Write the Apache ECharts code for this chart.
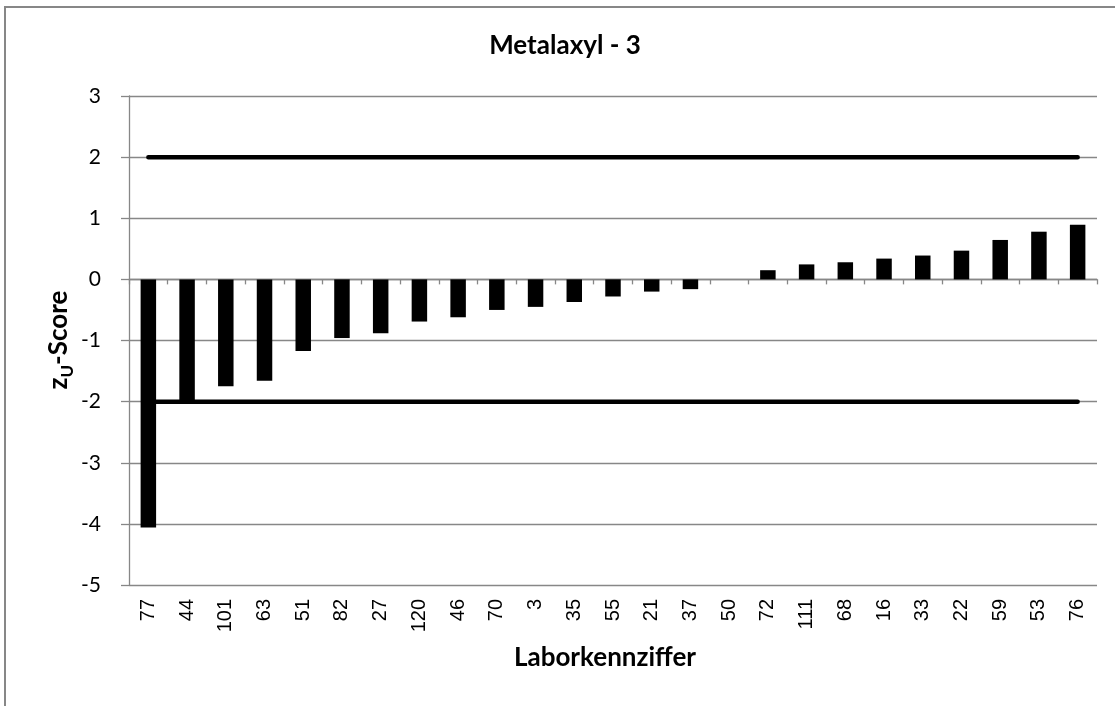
<!DOCTYPE html>
<html>
<head>
<meta charset="utf-8">
<script src="https://cdn.jsdelivr.net/npm/echarts@6/dist/echarts.min.js"></script>
<style>
html,body{margin:0;padding:0;background:#fff;}
#chart{width:1115px;height:706px;}
</style>
</head>
<body>
<div id="chart"></div>
<script>
const categories = ['77','44','101','63','51','82','27','120','46','70','3','35','55','21','37','50','72','111','68','16','33','22','59','53','76'];
const zScores = [-4.06,-1.98,-1.75,-1.66,-1.17,-0.96,-0.88,-0.69,-0.62,-0.50,-0.45,-0.37,-0.28,-0.20,-0.16,0,0.15,0.245,0.28,0.34,0.39,0.47,0.645,0.78,0.895];
const upperLimit = [2,2,2,2,2,2,2,2,2,2,2,2,2,2,2,2,2,2,2,2,2,2,2,2,2];
const lowerLimit = [-2,-2,-2,-2,-2,-2,-2,-2,-2,-2,-2,-2,-2,-2,-2,-2,-2,-2,-2,-2,-2,-2,-2,-2,-2];
const yTicks = {min: -5, max: 3, interval: 1};
const titleText = 'Metalaxyl - 3';
const xTitle = 'Laborkennziffer';

const chart = echarts.init(document.getElementById('chart'), null, {renderer: 'canvas'});
const gridColor = '#878787';
const option = {
  animation: false,
  backgroundColor: '#fff',
  grid: {left: 129, right: 18, top: 96, bottom: 121, containLabel: false},
  xAxis: [
    {
      type: 'category', data: categories, boundaryGap: true,
      axisLine: {onZero: true, lineStyle: {color: gridColor, width: 1.3}},
      axisTick: {show: true, length: 5, lineStyle: {color: gridColor, width: 1.3}},
      axisLabel: {show: false},
      splitLine: {show: false}
    },
    {
      type: 'category', data: categories, position: 'bottom', boundaryGap: true,
      axisLine: {show: false, onZero: false},
      axisTick: {show: false},
      axisLabel: {show: true, rotate: 90, interval: 0, margin: 14, fontFamily: 'Liberation Sans', fontSize: 20, color: '#000'},
      splitLine: {show: false}
    }
  ],
  yAxis: {
    type: 'value', min: yTicks.min, max: yTicks.max, interval: yTicks.interval,
    axisLine: {show: true, lineStyle: {color: gridColor, width: 1.3}},
    axisTick: {show: true, length: 8, lineStyle: {color: gridColor, width: 1.3}},
    axisLabel: {margin: 28, fontFamily: 'Lato', fontSize: 21, color: '#000'},
    splitLine: {show: true, lineStyle: {color: gridColor, width: 1.3}}
  },
  series: [
    {
      type: 'bar', data: zScores, xAxisIndex: 0, barWidth: '40%',
      itemStyle: {color: '#000'}, z: 2
    },
    {
      type: 'line', data: upperLimit, xAxisIndex: 0, symbol: 'none',
      lineStyle: {color: '#000', width: 4.5, cap: 'round'}, z: 3
    },
    {
      type: 'line', data: lowerLimit, xAxisIndex: 0, symbol: 'none',
      lineStyle: {color: '#000', width: 4.5, cap: 'round'}, z: 3
    }
  ],
  graphic: [
    {
      type: 'rect', shape: {x: 5, y: 7, width: 1300, height: 900},
      style: {fill: 'none', stroke: '#878787', lineWidth: 2}, silent: true, z: 10
    },
    {
      type: 'text', x: 565, y: 46,
      style: {text: titleText, font: 'bold 26px Lato', fill: '#000', align: 'center', verticalAlign: 'middle', textAlign: 'center', textVerticalAlign: 'middle'}
    },
    {
      type: 'text', x: 605, y: 658,
      style: {text: xTitle, font: 'bold 26px Lato', fill: '#000', align: 'center', verticalAlign: 'middle', textAlign: 'center', textVerticalAlign: 'middle'}
    },
    {
      type: 'text', x: 59, y: 340, rotation: Math.PI / 2,
      style: {
        text: '{b|z}{s|U}{b|-Score}',
        align: 'center', verticalAlign: 'middle', textAlign: 'center', textVerticalAlign: 'middle',
        rich: {
          b: {fontFamily: 'Lato', fontWeight: 'bold', fontSize: 26, lineHeight: 34, fill: '#000', color: '#000'},
          s: {fontFamily: 'Lato', fontWeight: 'bold', fontSize: 17, lineHeight: 17, verticalAlign: 'bottom', fill: '#000', color: '#000'}
        }
      }
    }
  ]
};
chart.setOption(option);
</script>
</body>
</html>
